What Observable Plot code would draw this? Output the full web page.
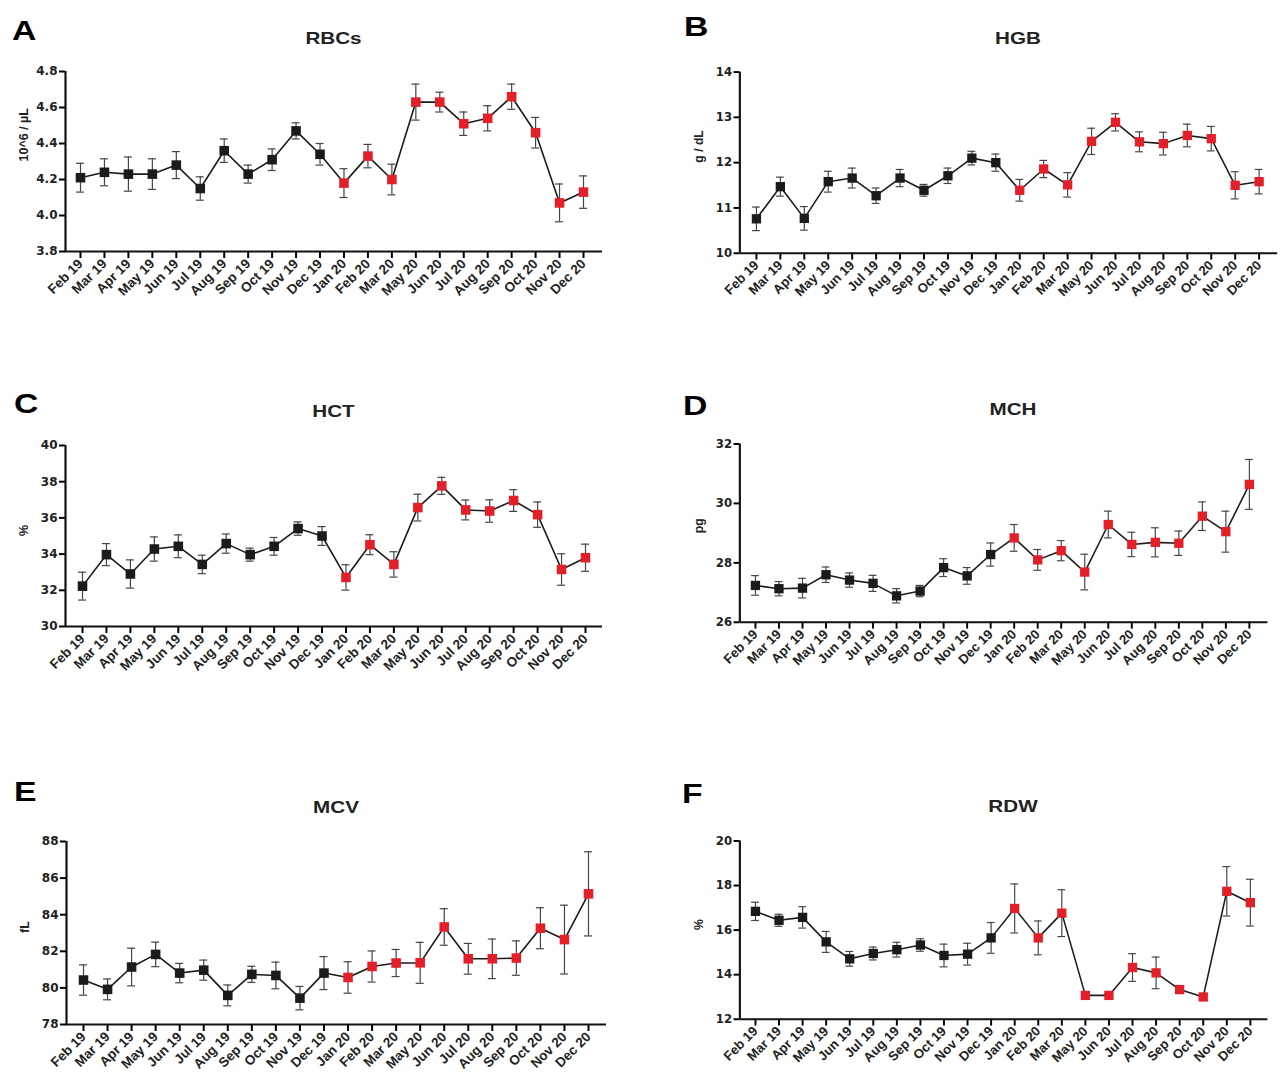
<!DOCTYPE html>
<html>
<head>
<meta charset="utf-8">
<script src="https://cdn.jsdelivr.net/npm/d3@7"></script>
<script src="https://cdn.jsdelivr.net/npm/@observablehq/plot@0.6"></script>
<style>
  html, body { margin: 0; padding: 0; background: #fff; }
  body { width: 1283px; height: 1078px; overflow: hidden; position: relative;
         font-family: "Liberation Sans", Arial, Helvetica, sans-serif; }
  .panel { position: absolute; }
  .panel svg text { font-size: 12.5px; font-weight: bold; }
  .panel svg g[aria-label="y-axis tick label"] text { font-family: "DejaVu Sans", sans-serif; font-size: 12px; }
  .panel svg g[aria-label="x-axis tick label"] text { font-family: "Liberation Sans", Arial, sans-serif; font-size: 13.5px; }
  .letter { position: absolute; font-size: 27px; font-weight: bold; line-height: 1; color: #000;
            transform: scaleX(1.25); transform-origin: left center; }
  .title { position: absolute; font-size: 16.5px; font-weight: bold; line-height: 1; color: #222; text-align: center;
           transform: scaleX(1.25); transform-origin: center center; }
</style>
</head>
<body>
<script>
// ---- data ----
const months = ["Feb 19","Mar 19","Apr 19","May 19","Jun 19","Jul 19","Aug 19","Sep 19","Oct 19","Nov 19","Dec 19",
                "Jan 20","Feb 20","Mar 20","May 20","Jun 20","Jul 20","Aug 20","Sep 20","Oct 20","Nov 20","Dec 20"];

const rbcMean = [4.21,4.24,4.23,4.23,4.28,4.15,4.36,4.23,4.31,4.47,4.34,4.18,4.33,4.20,4.63,4.63,4.51,4.54,4.66,4.46,4.07,4.13];
const rbcSem  = [0.08,0.075,0.095,0.085,0.075,0.065,0.065,0.05,0.06,0.045,0.06,0.08,0.065,0.085,0.1,0.055,0.065,0.07,0.07,0.085,0.105,0.09];

const hgbMean = [10.76,11.47,10.77,11.58,11.66,11.27,11.66,11.39,11.71,12.10,12.00,11.39,11.86,11.51,12.47,12.89,12.46,12.42,12.60,12.53,11.50,11.58];
const hgbSem  = [0.26,0.21,0.26,0.23,0.22,0.17,0.19,0.13,0.17,0.15,0.19,0.24,0.19,0.27,0.29,0.19,0.22,0.25,0.25,0.27,0.30,0.27];

const hctMean = [32.23,33.97,32.90,34.28,34.43,33.43,34.58,33.97,34.43,35.41,35.00,32.71,34.52,33.43,36.57,37.77,36.44,36.38,36.96,36.18,33.15,33.80];
const hctSem  = [0.77,0.61,0.78,0.67,0.63,0.51,0.53,0.36,0.49,0.37,0.52,0.70,0.55,0.70,0.74,0.47,0.55,0.62,0.60,0.70,0.87,0.75];

const mchMean = [27.24,27.13,27.15,27.60,27.42,27.31,26.89,27.05,27.84,27.56,28.28,28.84,28.10,28.41,27.69,29.29,28.62,28.69,28.66,29.57,29.05,30.64];
const mchSem  = [0.33,0.24,0.33,0.26,0.24,0.27,0.24,0.19,0.30,0.28,0.39,0.45,0.35,0.34,0.60,0.45,0.41,0.49,0.41,0.48,0.69,0.84];

const mcvMean = [80.43,79.92,81.14,81.83,80.81,80.97,79.59,80.74,80.68,79.44,80.81,80.57,81.17,81.36,81.37,83.33,81.59,81.59,81.63,83.26,82.64,85.14];
const mcvSem  = [0.83,0.57,1.03,0.67,0.53,0.55,0.57,0.44,0.73,0.64,0.90,0.86,0.85,0.74,1.12,1.00,0.84,1.08,0.94,1.12,1.88,2.30];

const rdwMean = [16.84,16.44,16.57,15.47,14.71,14.95,15.12,15.33,14.86,14.92,15.65,16.97,15.65,16.76,13.07,13.07,14.32,14.08,13.33,13.00,17.74,17.23];
const rdwSem  = [0.41,0.27,0.48,0.47,0.33,0.29,0.33,0.28,0.51,0.49,0.69,1.10,0.76,1.05,0.06,0.06,0.62,0.71,0.08,0.05,1.11,1.05];

const rbcTicks = [3.8,4.0,4.2,4.4,4.6,4.8];
const hgbTicks = [10,11,12,13,14];
const hctTicks = [30,32,34,36,38,40];
const mchTicks = [26,28,30,32];
const mcvTicks = [78,80,82,84,86,88];
const rdwTicks = [12,14,16,18,20];

const panelLetters = ["A","B","C","D","E","F"];
const panelTitles  = ["RBCs","HGB","HCT","MCH","MCV","RDW"];
const panelUnits   = ["10^6 / \u00b5L","g / dL","%","pg","fL","%"];

// ---- layout (pixel geometry only) ----
const layout = [
  {L:0,   T:55,  W:640, H:285, axis:65,  x0:80,  x21:583,  end:602,  yTop:71,  yBot:251, lx:12,  lt:18,  tt:30},
  {L:640, T:55,  W:660, H:285, axis:742, x0:759, x21:1275, end:1294, yTop:72,  yBot:258, lx:684, lt:14,  tt:30},
  {L:0,   T:425, W:640, H:285, axis:65,  x0:82,  x21:585,  end:602,  yTop:445, yBot:626, lx:14,  lt:391, tt:403},
  {L:640, T:425, W:660, H:285, axis:742, x0:758, x21:1265, end:1284, yTop:444, yBot:627, lx:683, lt:393, tt:401},
  {L:0,   T:820, W:640, H:258, axis:66,  x0:83,  x21:588,  end:606,  yTop:841, yBot:1024, lx:14, lt:779, tt:799},
  {L:640, T:820, W:660, H:258, axis:742, x0:758, x21:1266, end:1284, yTop:841, yBot:1024, lx:682, lt:781, tt:798}
];

const series = [
  {mean: rbcMean, sem: rbcSem, ticks: rbcTicks, fmt: d3.format(".1f")},
  {mean: hgbMean, sem: hgbSem, ticks: hgbTicks, fmt: d3.format("d")},
  {mean: hctMean, sem: hctSem, ticks: hctTicks, fmt: d3.format("d")},
  {mean: mchMean, sem: mchSem, ticks: mchTicks, fmt: d3.format("d")},
  {mean: mcvMean, sem: mcvSem, ticks: mcvTicks, fmt: d3.format("d")},
  {mean: rdwMean, sem: rdwSem, ticks: rdwTicks, fmt: d3.format("d")}
];

const BLACK = "#1b1b1b", RED = "#e3202a";

series.forEach((s, k) => {
  const g = layout[k];
  const rows = months.map((m, i) => ({i, m, v: s.mean[i], e: s.sem[i], yr: m.endsWith("20") ? "2020" : "2019"}));
  const step = (g.x21 - g.x0) / 21;
  const lo = -(g.x0 - g.axis) / step;
  const hi = 21 + (g.end - g.x21) / step;
  const ymin = s.ticks[0], ymax = s.ticks[s.ticks.length - 1];
  const cap = 4 / step;

  const chart = Plot.plot({
    width: g.W,
    height: g.H,
    marginLeft: g.axis - g.L,
    marginRight: g.L + g.W - g.end,
    marginTop: g.yTop - g.T,
    marginBottom: g.T + g.H - g.yBot,
    style: {fontFamily: "'Liberation Sans', Arial, sans-serif", fontSize: "12.5px", fontWeight: "bold",
            background: "transparent", overflow: "visible"},
    x: {type: "linear", domain: [lo, hi]},
    y: {domain: [ymin, ymax]},
    marks: [
      Plot.axisY({ticks: s.ticks, tickFormat: s.fmt, tickSize: 6, tickPadding: 2, strokeWidth: 2,
                  fill: "#222", label: null}),
      Plot.axisX({ticks: d3.range(months.length), tickFormat: i => months[i], tickRotate: -45,
                  tickSize: 7, tickPadding: 3, strokeWidth: 2, fill: "#222", label: null}),
      Plot.ruleY([ymin], {stroke: "#111", strokeWidth: 2.2}),
      Plot.ruleX([lo], {stroke: "#111", strokeWidth: 2.2}),
      Plot.text([panelUnits[k]], {frameAnchor: "left", rotate: -90, dx: -42, text: d => d, fill: "#222"}),
      Plot.ruleX(rows, {x: "i", y1: d => d.v - d.e, y2: d => d.v + d.e, stroke: "#444", strokeWidth: 1.2}),
      Plot.ruleY(rows, {y: d => d.v + d.e, x1: d => d.i - cap, x2: d => d.i + cap, stroke: "#444", strokeWidth: 1.2}),
      Plot.ruleY(rows, {y: d => d.v - d.e, x1: d => d.i - cap, x2: d => d.i + cap, stroke: "#444", strokeWidth: 1.2}),
      Plot.line(rows, {x: "i", y: "v", stroke: BLACK, strokeWidth: 1.6}),
      Plot.dot(rows, {x: "i", y: "v", symbol: "square", r: 5.4, fill: d => d.yr === "2020" ? RED : BLACK, stroke: "none"})
    ]
  });

  const wrap = document.createElement("div");
  wrap.className = "panel";
  wrap.style.left = g.L + "px";
  wrap.style.top = g.T + "px";
  wrap.appendChild(chart);
  document.body.appendChild(wrap);

  const letter = document.createElement("div");
  letter.className = "letter";
  letter.textContent = panelLetters[k];
  letter.style.left = g.lx + "px";
  letter.style.top = g.lt + "px";
  document.body.appendChild(letter);

  const title = document.createElement("div");
  title.className = "title";
  title.textContent = panelTitles[k];
  title.style.left = g.axis + "px";
  title.style.width = (g.end - g.axis) + "px";
  title.style.top = g.tt + "px";
  document.body.appendChild(title);
});
</script>
</body>
</html>
